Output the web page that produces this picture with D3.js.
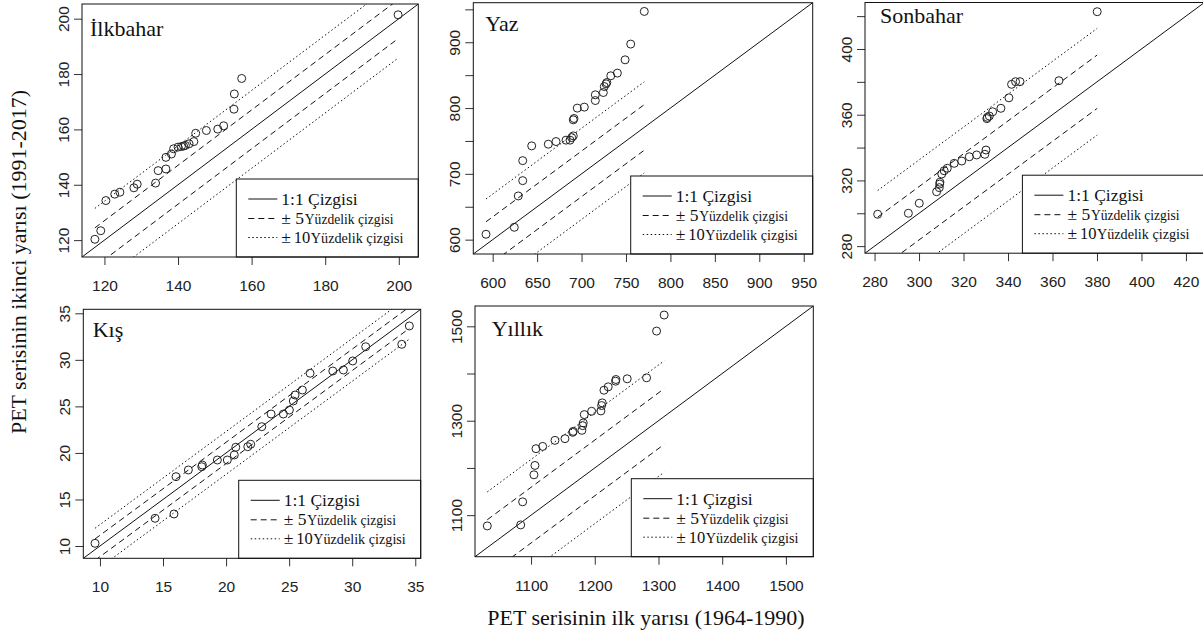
<!DOCTYPE html>
<html><head><meta charset="utf-8">
<script src="https://cdn.jsdelivr.net/npm/d3@7"></script>
<style>body{margin:0;background:#fff} svg{display:block}</style>
</head><body><svg id="c" width="1203" height="633"></svg>
<script>
// ---------- DATA ----------
const panelNames = ["İlkbahar", "Yaz", "Sonbahar", "Kış", "Yıllık"];

const ilkX = [117.4,119.0,120.4,122.8,124.2,128.0,128.9,133.9,134.6,136.7,136.7,138.2,138.8,140.0,140.9,141.5,142.0,143.0,144.3,144.8,147.7,150.8,152.4,155.2,155.3,157.3,199.8];
const ilkY = [120.3,123.4,134.3,136.6,137.3,138.9,140.2,140.6,145.1,145.7,149.9,151.1,153.0,153.6,153.8,154.0,154.2,154.8,155.6,158.6,159.6,160.1,161.3,167.3,172.8,178.4,201.4];

const yazX = [592.5,624.3,628.8,633.8,633.8,643.9,662.6,671.3,682.5,687.0,688.9,690.7,690.7,691.5,695.2,703.1,715.5,715.5,724.5,725.6,727.6,728.4,732.9,740.3,749.0,755.3,770.6];
const yazY = [608.2,618.8,666.4,689.7,720.1,742.5,745.1,749.1,751.2,751.2,755.1,757.7,782.1,784.1,799.9,801.4,811.4,820.1,823.6,832.7,836.8,838.8,849.0,853.1,873.3,897.2,946.8];

const sonX = [281.4,295.2,300.1,307.9,309.1,309.3,309.4,310.2,311.3,312.7,315.8,319.2,322.6,325.9,329.6,330.1,330.5,330.7,331.6,333.1,336.8,340.4,341.6,343.4,345.4,362.9,380.1];
const sonY = [299.4,300.0,306.1,313.1,315.6,317.8,318.9,323.9,325.9,327.4,330.4,331.8,334.4,335.5,335.9,338.5,357.6,358.4,359.2,361.8,363.9,370.3,378.5,380.1,380.1,380.7,422.7];

const kisX = [9.61,14.37,15.87,16.03,17.01,18.07,18.12,19.31,20.10,20.65,20.77,21.72,21.95,22.83,23.57,24.54,25.02,25.33,25.47,26.05,26.66,28.46,29.30,30.04,31.07,33.93,34.53];
const kisY = [10.29,12.98,13.44,17.45,18.17,18.52,18.70,19.24,19.24,19.78,20.61,20.67,20.93,22.82,24.18,24.18,24.61,25.58,26.22,26.76,28.56,28.80,28.91,29.88,31.41,31.67,33.64];

const yilX = [1031.3,1083.7,1086.8,1104.5,1106.1,1107.7,1118.2,1137.5,1153.2,1165.3,1166.2,1179.8,1181.0,1181.9,1183.5,1195.1,1209.6,1210.7,1211.7,1214.4,1221.1,1232.7,1233.2,1250.9,1281.3,1297.0,1308.9];
const yilY = [1077.2,1079.3,1128.2,1185.5,1205.3,1240.8,1245.6,1258.4,1262.0,1275.4,1277.5,1279.6,1289.6,1295.3,1313.0,1320.0,1320.8,1332.1,1337.8,1364.6,1371.8,1383.7,1387.3,1388.8,1390.9,1489.9,1523.9];

const ilkTicks = [120,140,160,180,200];
const yazTicks = [600,650,700,750,800,850,900,950];
const yazYLabels = [600,700,800,900];
const sonTicks = [280,300,320,340,360,380,400,420];
const sonYLabels = [280,320,360,400];
const kisTicks = [10,15,20,25,30,35];
const yilTicks = [1100,1200,1300,1400,1500];
const yilYLabels = [1100,1300,1500];

const bandPcts = [5, 10];
const legendMain = "1:1 Çizgisi";
const legendPctWord = "Yüzdelik çizgisi";
const xTitle = "PET serisinin ilk yarısı (1964-1990)";
const yTitle = "PET serisinin ikinci yarısı (1991-2017)";

// ---------- LAYOUT ----------
const serif = "'Liberation Serif','Times New Roman',serif";
const sans = "'Liberation Sans',Arial,sans-serif";
const dashes = [null, "6,4", "1.5,2.5"];

const panels = [
  {x: ilkX, y: ilkY, ticks: ilkTicks, yLabels: ilkTicks, dom: [113.9, 205.3], box: [82, 4, 418.3, 257], title: [8, 32]},
  {x: yazX, y: yazY, ticks: yazTicks, yLabels: yazYLabels, dom: [578.2, 960.1], box: [473.3, 2.7, 812.7, 254], title: [12, 28]},
  {x: sonX, y: sonY, ticks: sonTicks, yLabels: sonYLabels, dom: [275.7, 428.3], box: [865, 2.5, 1204.4, 253.2], title: [15, 20]},
  {x: kisX, y: kisY, ticks: kisTicks, yLabels: kisTicks, dom: [8.68, 35.43], box: [83.3, 309.3, 420.7, 558.3], title: [9.4, 28]},
  {x: yilX, y: yilY, ticks: yilTicks, yLabels: yilYLabels, dom: [1012, 1543], box: [475, 306, 813.3, 556.7], title: [16.7, 30]}
];

const svg = d3.select("#c");
svg.append("rect").attr("width", 1203).attr("height", 633).attr("fill", "#fff");
const defs = svg.append("defs");

panels.forEach((p, i) => {
  const [x0, y0, x1, y1] = p.box;
  const xs = d3.scaleLinear().domain(p.dom).range([x0, x1]);
  const ys = d3.scaleLinear().domain(p.dom).range([y1, y0]);
  const g = svg.append("g");
  const clipId = "clip" + i;
  defs.append("clipPath").attr("id", clipId).append("rect")
    .attr("x", x0).attr("y", y0).attr("width", x1 - x0).attr("height", y1 - y0);

  const lg = g.append("g").attr("clip-path", `url(#${clipId})`);
  const line = d3.line().x(d => xs(d[0])).y(d => ys(d[1]));
  lg.append("path").attr("d", line(p.dom.map(v => [v, v])))
    .attr("fill", "none").attr("stroke", "#111").attr("stroke-width", 1);
  const m = d3.mean(p.x), mn = d3.min(p.x), mx = d3.max(p.x);
  bandPcts.forEach((pc, k) => {
    [1, -1].forEach(s => {
      const off = s * pc / 100 * m;
      lg.append("path").attr("d", line([[mn, mn + off], [mx, mx + off]]))
        .attr("fill", "none").attr("stroke", "#111").attr("stroke-width", 1)
        .attr("stroke-dasharray", dashes[k + 1]);
    });
  });

  lg.selectAll("circle").data(d3.zip(p.x, p.y)).join("circle")
    .attr("cx", d => xs(d[0])).attr("cy", d => ys(d[1])).attr("r", 4)
    .attr("fill", "none").attr("stroke", "#222").attr("stroke-width", 1);

  // x axis
  const xa = g.append("g").attr("transform", `translate(0,${y1})`)
    .call(d3.axisBottom(xs).tickValues(p.ticks).tickSize(8).tickPadding(15).tickFormat(d3.format("d")));
  xa.select(".domain").remove();
  xa.selectAll("line").attr("stroke", "#333");
  xa.selectAll("text").attr("font-family", sans).attr("font-size", 15.5).attr("fill", "#222");

  // y axis
  const ya = g.append("g").attr("transform", `translate(${x0},0)`)
    .call(d3.axisLeft(ys).tickValues(p.ticks).tickSize(8).tickFormat(d => p.yLabels.includes(d) ? d3.format("d")(d) : ""));
  ya.select(".domain").remove();
  ya.selectAll("line").attr("stroke", "#333");
  ya.selectAll("text").attr("font-family", sans).attr("font-size", 15.5).attr("fill", "#222")
    .attr("transform", "rotate(-90)").attr("x", 0).attr("y", -19).attr("dy", null)
    .attr("dominant-baseline", "central").attr("text-anchor", "middle");

  // legend
  const LW = 182, LH = 78;
  const lx = x1 - LW, ly = y1 - LH;
  const leg = g.append("g").attr("transform", `translate(${lx},${ly})`);
  leg.append("rect").attr("width", LW).attr("height", LH).attr("fill", "#fff").attr("stroke", "#111").attr("stroke-width", 1);
  const rows = [20, 39.5, 58.5];
  rows.forEach((ry, r) => {
    leg.append("line").attr("x1", 12).attr("x2", 41).attr("y1", ry).attr("y2", ry)
      .attr("stroke", "#111").attr("stroke-width", 1).attr("stroke-dasharray", dashes[r]);
    if (r === 0) {
      leg.append("text").attr("x", 45).attr("y", ry).attr("dy", "0.35em")
        .attr("font-family", serif).attr("font-size", 17.5).attr("fill", "#111").text(legendMain);
    } else {
      const t = leg.append("text").attr("y", ry).attr("dy", "0.35em").attr("font-family", serif).attr("fill", "#111");
      t.append("tspan").attr("x", 45).attr("font-size", 17.5).text("±");
      t.append("tspan").attr("x", r === 1 ? 59 : 57.5).attr("font-size", r === 1 ? 17.5 : 16.5).text(String(bandPcts[r - 1]));
      t.append("tspan").attr("x", r === 1 ? 68.5 : 74.5).attr("font-size", r === 1 ? 13.6 : 14.2).text(legendPctWord);
    }
  });

  // border
  g.append("rect").attr("x", x0).attr("y", y0).attr("width", x1 - x0).attr("height", y1 - y0)
    .attr("fill", "none").attr("stroke", "#111").attr("stroke-width", 1);

  // title
  g.append("text").attr("x", x0 + p.title[0]).attr("y", y0 + p.title[1])
    .attr("font-family", serif).attr("font-size", 22).attr("fill", "#111").text(panelNames[i]);
});

svg.append("text").attr("transform", "translate(18,262) rotate(-90)")
  .attr("text-anchor", "middle").attr("dominant-baseline", "central")
  .attr("font-family", serif).attr("font-size", 22).attr("fill", "#111").text(yTitle);
svg.append("text").attr("x", 646).attr("y", 617)
  .attr("text-anchor", "middle").attr("dominant-baseline", "central")
  .attr("font-family", serif).attr("font-size", 22).attr("fill", "#111").text(xTitle);
</script>
</body></html>
